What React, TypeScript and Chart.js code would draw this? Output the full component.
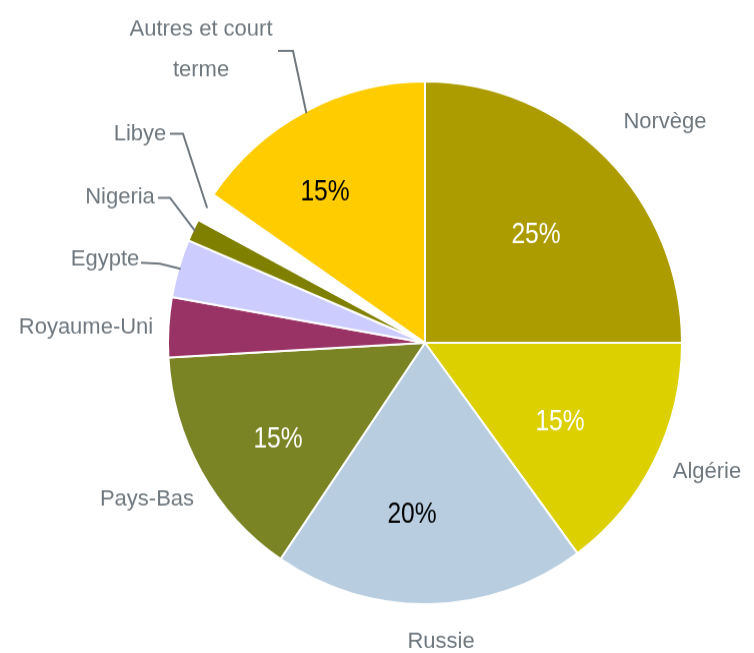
import React, { useEffect, useRef } from "react";
import { Chart, registerables } from "chart.js";

Chart.register(...registerables);

const categories = [
  "Norvège",
  "Algérie",
  "Russie",
  "Pays-Bas",
  "Royaume-Uni",
  "Egypte",
  "Nigeria",
  "Libye",
  "Autres et court terme",
];
const shares = [25, 14.9, 19.6, 14.6, 3.7, 3.6, 1.4, 1.8, 15.4];
const colors = [
  "#AC9C00",
  "#DDD000",
  "#B8CEE0",
  "#7A8424",
  "#993366",
  "#CCCCFF",
  "#808000",
  "#FFFFFF",
  "#FFCC00",
];
const showPercent = [true, true, true, true, false, false, false, false, true];
const percentColors = ["#FFFFFF", "#FFFFFF", "#000000", "#FFFFFF", "", "", "", "", "#000000"];

// ---- Layout (annotation placement relative to the pie centre, in page px) ----
const CANVAS_W = 754;
const CANVAS_H = 642; // drawn then stretched to 653 to match the slightly oval pie
const SY = 653 / CANVAS_H;
const LABEL_FONT = '22px "Liberation Sans", Arial, sans-serif';
const PCT_FONT = '30px "Liberation Sans", Arial, sans-serif';
const PCT_SQUEEZE = 0.82;
const LABEL_COLOR = "#6F787F";
const labelPos: Record<string, { lines: string[]; x: number; y: number; lh?: number; leader?: [number, number][] }> = {
  "Norvège": { lines: ["Norvège"], x: 240, y: -215 },
  "Algérie": { lines: ["Algérie"], x: 282, y: 135 },
  "Russie": { lines: ["Russie"], x: 16, y: 305 },
  "Pays-Bas": { lines: ["Pays-Bas"], x: -278, y: 163 },
  "Royaume-Uni": { lines: ["Royaume-Uni"], x: -339, y: -9 },
  "Egypte": { lines: ["Egypte"], x: -320, y: -77, leader: [[-284, -80], [-265, -79]] },
  "Nigeria": { lines: ["Nigeria"], x: -305, y: -139, leader: [[-267, -145], [-255, -145]] },
  "Libye": { lines: ["Libye"], x: -285, y: -202, leader: [[-255, -209], [-242, -209]] },
  "Autres et court terme": {
    lines: ["Autres et court", "terme"],
    x: -224,
    y: -307,
    lh: 41,
    leader: [[-147, -292], [-132, -292]],
  },
};
const pctPos: Record<string, [number, number]> = {
  "Norvège": [111, -109],
  "Algérie": [135, 78],
  "Russie": [-13, 171],
  "Pays-Bas": [-147, 95],
  "Autres et court terme": [-100, -152],
};

const labelsPlugin = {
  id: "pieLabels",
  afterDatasetsDraw(chart: any) {
    const ctx = chart.ctx as CanvasRenderingContext2D;
    const meta = chart.getDatasetMeta(0);
    const total = shares.reduce((a, b) => a + b, 0);
    ctx.save();
    meta.data.forEach((arc: any, i: number) => {
      const { x: cx, y: cy, startAngle, endAngle, outerRadius } = arc.getProps(
        ["x", "y", "startAngle", "endAngle", "outerRadius"],
        true
      );
      const name = categories[i];
      const lp = labelPos[name];
      if (lp) {
        ctx.fillStyle = LABEL_COLOR;
        ctx.font = LABEL_FONT;
        ctx.textAlign = "center";
        ctx.textBaseline = "alphabetic";
        lp.lines.forEach((t, k) => {
          ctx.fillText(t, cx + lp.x, cy + (lp.y + k * (lp.lh || 0)) / SY);
        });
        if (lp.leader) {
          const mid = (startAngle + endAngle) / 2;
          ctx.strokeStyle = LABEL_COLOR;
          ctx.lineWidth = 2;
          ctx.beginPath();
          ctx.moveTo(cx + lp.leader[0][0], cy + lp.leader[0][1] / SY);
          for (let k = 1; k < lp.leader.length; k++) {
            ctx.lineTo(cx + lp.leader[k][0], cy + lp.leader[k][1] / SY);
          }
          ctx.lineTo(cx + Math.cos(mid) * (outerRadius - 2), cy + Math.sin(mid) * (outerRadius - 2));
          ctx.stroke();
        }
      }
      if (showPercent[i]) {
        const p = pctPos[name];
        const pct = Math.round((shares[i] / total) * 100);
        ctx.save();
        ctx.fillStyle = percentColors[i];
        ctx.font = PCT_FONT;
        ctx.textAlign = "center";
        ctx.textBaseline = "middle";
        ctx.translate(cx + p[0], cy + (p[1] + 1) / SY);
        ctx.scale(PCT_SQUEEZE, 1);
        ctx.fillText(pct + "%", 0, 0);
        ctx.restore();
      }
    });
    ctx.restore();
  },
};

export default function App() {
  const ref = useRef<HTMLCanvasElement | null>(null);
  useEffect(() => {
    if (!ref.current) return;
    const chart = new Chart(ref.current, {
      type: "pie",
      data: {
        labels: categories,
        datasets: [
          {
            data: shares,
            backgroundColor: colors,
            borderColor: "#FFFFFF",
            borderWidth: 2,
            hoverBorderWidth: 2,
            hoverOffset: 0,
          },
        ],
      },
      options: {
        animation: false,
        responsive: false,
        layout: { padding: { left: 167, top: 79, right: 71, bottom: 47 } },
        plugins: {
          legend: { display: false },
          tooltip: { enabled: false },
        },
      },
      plugins: [labelsPlugin],
    });
    return () => chart.destroy();
  }, []);
  return (
    <div style={{ position: "fixed", left: 0, top: 0, width: 754, height: 653, background: "#FFFFFF" }}>
      <canvas
        ref={ref}
        width={CANVAS_W}
        height={CANVAS_H}
        style={{ width: 754, height: 653, display: "block" }}
      />
    </div>
  );
}
